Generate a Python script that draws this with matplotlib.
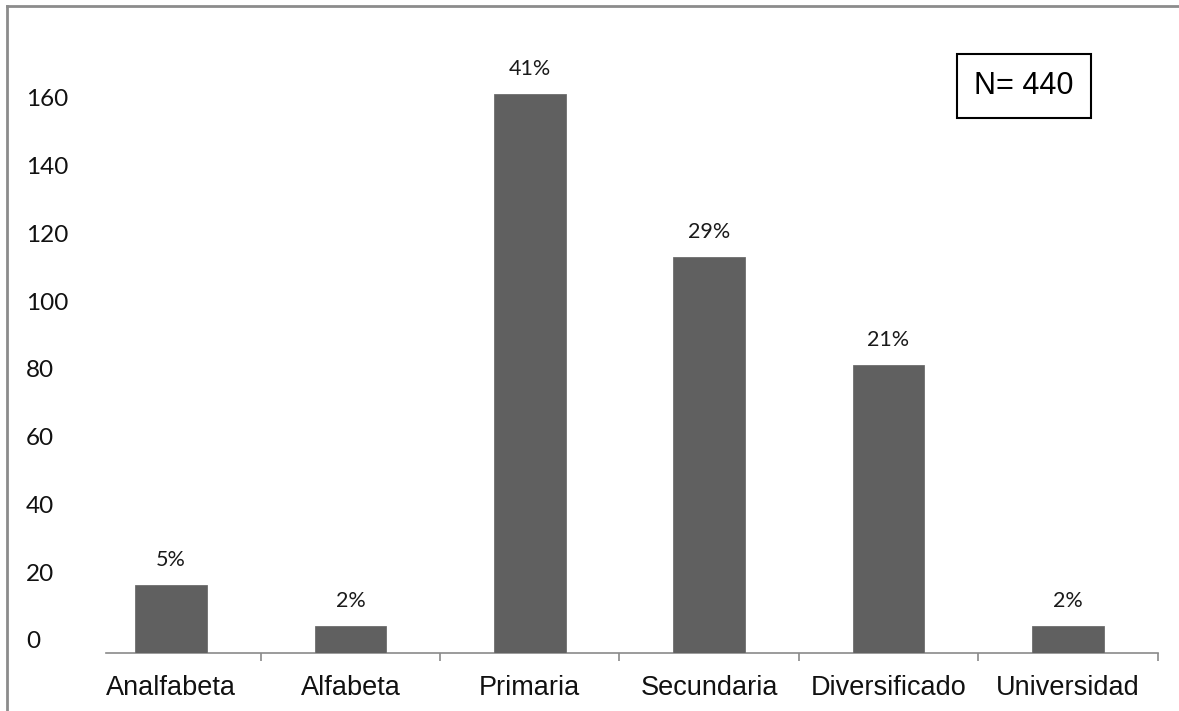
import matplotlib
matplotlib.use("Agg")
import matplotlib.pyplot as plt
from matplotlib.transforms import ScaledTranslation
from matplotlib.lines import Line2D

# Nivel educativo, N = 440
categorias = ["Analfabeta", "Alfabeta", "Primaria", "Secundaria", "Diversificado", "Universidad"]
valores = [20, 8, 165, 117, 85, 8]
porcentajes = ["5%", "2%", "41%", "29%", "21%", "2%"]
y_ticks = [0, 20, 40, 60, 80, 100, 120, 140, 160]

W, H, DPI = 1179, 711, 100
fig = plt.figure(figsize=(W / DPI, H / DPI), dpi=DPI)

# plot area in pixels: x 81..1158, y 43..653
left, right, top, bottom = 81.4, 1157.6, 43, 653
ax = fig.add_axes([left / W, 1 - bottom / H, (right - left) / W, (bottom - top) / H])

x = list(range(len(categorias)))
ax.bar(x, valores, width=0.40, color="#606060", edgecolor="#6e6e6e", linewidth=0.6, zorder=3)

ax.set_xlim(-0.5, len(categorias) - 0.5)
ax.set_ylim(0, 180)

# percent labels above bars
for xi, v, p in zip(x, valores, porcentajes):
    ax.annotate(p, (xi, v), xytext=(0, 18), textcoords="offset points",
                ha="center", va="center", fontsize=15.5, family="Lato", color="#1a1a1a")

# axes look
for s in ["left", "right", "top"]:
    ax.spines[s].set_visible(False)
ax.spines["bottom"].set_color("#8a8a8a")
ax.spines["bottom"].set_linewidth(1.2)
ax.spines["bottom"].set_bounds(-0.363, len(categorias) - 0.5)

# category ticks between bars
ax.set_xticks([i + 0.5 for i in x])
ax.set_xticklabels([])
ax.tick_params(axis="x", which="major", direction="out", length=6, color="#8a8a8a", width=1.2)
ax.set_xticks(x, minor=True)
ax.set_xticklabels(categorias, minor=True, fontsize=19.5, family="Liberation Sans", color="#111111")
ax.tick_params(axis="x", which="minor", length=0, pad=16)

ax.set_yticks(y_ticks)
ax.set_yticklabels([str(t) for t in y_ticks], fontsize=17.5, family="Lato", ha="left", color="#111111")
ax.tick_params(axis="y", length=0, pad=40)
shift = ScaledTranslation(0, 13 / DPI, fig.dpi_scale_trans)
for lab in ax.get_yticklabels():
    lab.set_transform(lab.get_transform() + shift)

# N box
fig.text(1024 / W, 1 - 86 / H, "N= 440", ha="center", va="center", fontsize=22,
         family="Liberation Sans",
         bbox=dict(boxstyle="square,pad=0.55", facecolor="white", edgecolor="black", linewidth=1.5))

# outer frame (cropped screenshot border)
fig.add_artist(Line2D([7 / W, 7 / W], [0, 1 - 6 / H], color="#8c8c8c", linewidth=2))
fig.add_artist(Line2D([7 / W, 1], [1 - 6 / H, 1 - 6 / H], color="#8c8c8c", linewidth=2))

fig.savefig("out.png", dpi=DPI)
